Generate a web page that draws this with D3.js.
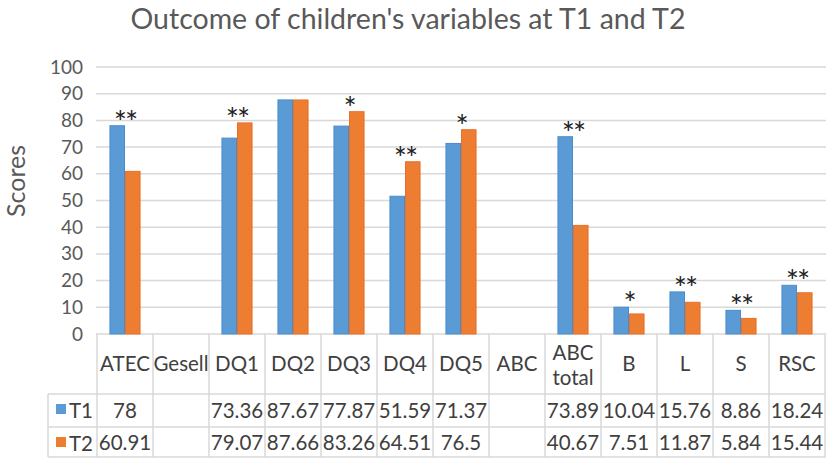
<!DOCTYPE html>
<html>
<head>
<meta charset="utf-8">
<script src="https://cdn.jsdelivr.net/npm/d3@7"></script>
<style>
  body { margin: 0; background: #fff; }
  text { font-family: Lato, "Open Sans", sans-serif; }
</style>
</head>
<body>
<svg id="chart" width="829" height="467"></svg>
<script>
// data
var categories = ['ATEC', 'Gesell', 'DQ1', 'DQ2', 'DQ3', 'DQ4', 'DQ5', 'ABC', 'ABC total', 'B', 'L', 'S', 'RSC'];
var seriesNames = ['T1', 'T2'];
var t1 = [78, null, 73.36, 87.67, 77.87, 51.59, 71.37, null, 73.89, 10.04, 15.76, 8.86, 18.24];
var t2 = [60.91, null, 79.07, 87.66, 83.26, 64.51, 76.5, null, 40.67, 7.51, 11.87, 5.84, 15.44];
var t1Labels = ['78', '', '73.36', '87.67', '77.87', '51.59', '71.37', '', '73.89', '10.04', '15.76', '8.86', '18.24'];
var t2Labels = ['60.91', '', '79.07', '87.66', '83.26', '64.51', '76.5', '', '40.67', '7.51', '11.87', '5.84', '15.44'];
var stars = ['**', '', '**', '', '*', '**', '*', '', '**', '*', '**', '**', '**'];
var yTicks = [0, 10, 20, 30, 40, 50, 60, 70, 80, 90, 100];

var colors = { T1: '#5b9bd5', T2: '#ed7d31' };
var strokes = { T1: '#4a8ccb', T2: '#e8702a' };
var gridColor = '#d9d9d9';
var textColor = '#595959';

var svg = d3.select('#chart');

var x = d3.scaleBand()
  .domain(categories)
  .range([97, 825]);

var x1 = d3.scaleBand()
  .domain(seriesNames)
  .range([0, x.bandwidth()])
  .paddingOuter(0.8);

var y = d3.scaleLinear()
  .domain([0, 100])
  .range([334, 67]);

// title
svg.append('text')
  .attr('x', 408)
  .attr('y', 29)
  .attr('text-anchor', 'middle')
  .attr('font-size', 28.5)
  .attr('fill', textColor)
  .text("Outcome of children's variables at T1 and T2");

// y label
svg.append('text')
  .attr('transform', 'translate(25, 181) rotate(-90)')
  .attr('text-anchor', 'middle')
  .attr('font-size', 25)
  .attr('fill', textColor)
  .text('Scores');

// grid
svg.append('g')
  .selectAll('line')
  .data(yTicks)
  .enter()
  .append('line')
  .attr('x1', 96)
  .attr('x2', 826)
  .attr('y1', function (d) { return y(d); })
  .attr('y2', function (d) { return y(d); })
  .attr('stroke', gridColor)
  .attr('stroke-width', 1.5);

// y axis tick labels
var yAxis = d3.axisLeft(y).tickValues(yTicks).tickSize(0).tickPadding(0);
var gy = svg.append('g')
  .attr('transform', 'translate(83, 0)')
  .call(yAxis);
gy.select('.domain').remove();
gy.selectAll('text')
  .attr('font-family', 'Lato, "Open Sans", sans-serif')
  .attr('font-size', 19)
  .attr('fill', textColor);

// bars
var rows = categories.map(function (c, i) {
  return { cat: c, values: [{ key: 'T1', v: t1[i] }, { key: 'T2', v: t2[i] }] };
});

var groups = svg.append('g')
  .selectAll('g')
  .data(rows)
  .enter()
  .append('g')
  .attr('transform', function (d) { return 'translate(' + x(d.cat) + ',0)'; });

groups.selectAll('rect')
  .data(function (d) { return d.values.filter(function (e) { return e.v !== null; }); })
  .enter()
  .append('rect')
  .attr('x', function (d) { return x1(d.key) + 0.5; })
  .attr('width', x1.bandwidth() - 1)
  .attr('y', function (d) { return y(d.v); })
  .attr('height', function (d) { return y(0) - y(d.v); })
  .attr('fill', function (d) { return colors[d.key]; })
  .attr('stroke', function (d) { return strokes[d.key]; })
  .attr('stroke-width', 1);

// significance stars
svg.append('g')
  .selectAll('text')
  .data(categories)
  .enter()
  .append('text')
  .attr('x', function (d) { return x(d) + x.bandwidth() / 2; })
  .attr('y', function (d, i) { return y(Math.max(t1[i] || 0, t2[i] || 0)) + 7; })
  .attr('text-anchor', 'middle')
  .attr('font-family', '"Liberation Sans", Arial, sans-serif')
  .attr('font-size', 31)
  .attr('letter-spacing', -2)
  .attr('fill', '#222')
  .text(function (d, i) { return stars[i]; });

// data table
var rowTop = 334, row1 = 394, row2 = 427, rowBot = 457, tableLeft = 48;
var table = svg.append('g')
  .attr('stroke', gridColor)
  .attr('stroke-width', 1.5);

[row1, row2, rowBot].forEach(function (yy) {
  table.append('line')
    .attr('x1', tableLeft).attr('x2', 825.5)
    .attr('y1', yy).attr('y2', yy);
});

table.selectAll('.vline')
  .data(categories.concat(['end']))
  .enter()
  .append('line')
  .attr('class', 'vline')
  .attr('x1', function (d, i) { return 97 + i * x.step(); })
  .attr('x2', function (d, i) { return 97 + i * x.step(); })
  .attr('y1', rowTop)
  .attr('y2', rowBot);

table.append('line')
  .attr('x1', tableLeft).attr('x2', tableLeft)
  .attr('y1', row1).attr('y2', rowBot);

var labels = svg.append('g')
  .attr('font-size', 20.5)
  .attr('fill', '#404040')
  .attr('text-anchor', 'middle');

categories.forEach(function (c, i) {
  var cx = x(c) + x.bandwidth() / 2;
  var parts = c.split(' ');
  var t = labels.append('text')
    .attr('x', cx)
    .attr('y', parts.length > 1 ? 360 : 371);
  parts.forEach(function (p, j) {
    t.append('tspan')
      .attr('x', cx)
      .attr('dy', j === 0 ? 0 : 25)
      .text(p);
  });
  labels.append('text').attr('x', cx).attr('y', 418).text(t1Labels[i]);
  labels.append('text').attr('x', cx).attr('y', 450).text(t2Labels[i]);
});

// legend keys in the table
var legendY = { T1: 404, T2: 437 };
seriesNames.forEach(function (s) {
  svg.append('rect')
    .attr('x', 56).attr('y', legendY[s])
    .attr('width', 10).attr('height', 10)
    .attr('fill', colors[s]);
  svg.append('text')
    .attr('x', 69).attr('y', legendY[s] + 14)
    .attr('font-size', 20.5)
    .attr('fill', '#404040')
    .text(s);
});
</script>
</body>
</html>
